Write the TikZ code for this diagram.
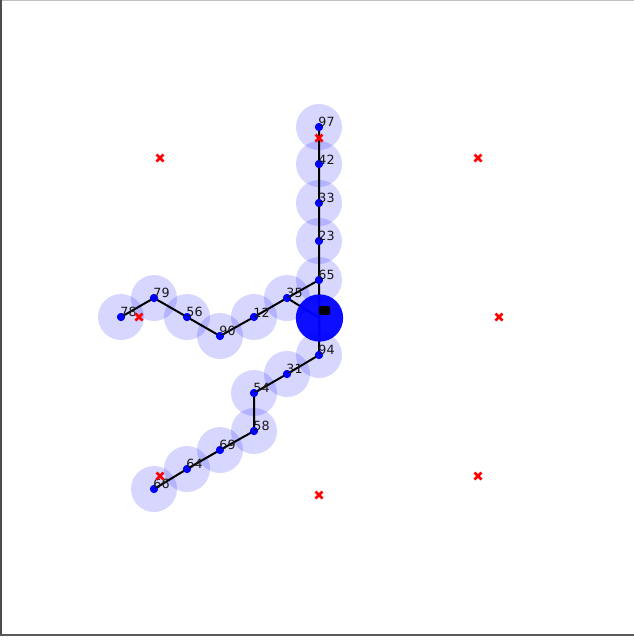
\documentclass[tikz,border=0pt]{standalone}
\usepackage{fontspec}
\setmainfont{DejaVu Sans}
\begin{document}
\begin{tikzpicture}[x=0.75pt,y=-0.75pt,
  halo/.style={circle,fill=blue,fill opacity=0.16,minimum size=34.5pt,inner sep=0pt},
  dot/.style={circle,fill=blue,minimum size=6pt,inner sep=0pt},
  lbl/.style={anchor=south west,inner sep=0pt,font=\fontsize{9.5}{9.5}\selectfont,text=black!90},
  edge/.style={draw=black,line width=1.5pt},
  xmark/.style={red,line width=2pt},
]
\useasboundingbox (0,0) rectangle (634,640);
\fill[white] (0,0) rectangle (634,640);
\draw[black!25,line width=0.8pt] (0,0.4) -- (634,0.4);
\draw[black!70,line width=1.5pt] (1,0) -- (1,635);
\draw[black!65,line width=1.5pt] (0,634.5) -- (634,634.5);

% nodes
\node[dot] (n97) at (319,127) {};
\node[dot] (n42) at (319,164) {};
\node[dot] (n33) at (319,203) {};
\node[dot] (n23) at (319,241) {};
\node[dot] (n65) at (319,280) {};
\node[dot] (n35) at (287,298) {};
\node[dot] (n12) at (254,317) {};
\node[dot] (n90) at (220,336) {};
\node[dot] (n56) at (187,317) {};
\node[dot] (n79) at (154,298) {};
\node[dot] (n78) at (121,317) {};
\node[dot] (n94) at (319,355) {};
\node[dot] (n31) at (287,374) {};
\node[dot] (n54) at (254,393) {};
\node[dot] (n58) at (254,431) {};
\node[dot] (n69) at (220,450) {};
\node[dot] (n64) at (187,469) {};
\node[dot] (n66) at (154,489) {};
\coordinate (c) at (319.5,318);

% halos
\foreach \n in {n97,n42,n33,n23,n65,n35,n12,n90,n56,n79,n78,n94,n31,n54,n58,n69,n64,n66}
  \node[halo] at (\n.center) {};

% edges
\draw[edge] (n97.center) -- (n42.center) -- (n33.center) -- (n23.center) -- (n65.center) -- (c);
\draw[edge] (n65.center) -- (n35.center);
\draw[edge] (c) -- (n35.center) -- (n12.center) -- (n90.center) -- (n56.center) -- (n79.center) -- (n78.center);
\draw[edge] (c) -- (n94.center) -- (n31.center) -- (n54.center) -- (n58.center) -- (n69.center) -- (n64.center) -- (n66.center);

% redraw dots over edges
\foreach \n in {n97,n42,n33,n23,n65,n35,n12,n90,n56,n79,n78,n94,n31,n54,n58,n69,n64,n66}
  \fill[blue] (\n.center) circle (3pt);

% central body
\node[circle,fill=blue,fill opacity=0.95,minimum size=35.5pt,inner sep=0pt] (hub) at (c) {};
\node[fill=black,rounded corners=1pt,minimum width=8.5pt,minimum height=6.5pt,inner sep=0pt] (box) at (324.5,310.5) {};

% labels
\foreach \n/\t in {n97/97,n42/42,n33/33,n23/23,n65/65,n35/35,n12/12,n90/90,n56/56,n79/79,n78/78,n94/94,n31/31,n54/54,n58/58,n69/69,n64/64,n66/66}
  \node[lbl] at ([xshift=-0.6pt,yshift=-0.3pt]\n.center) {\t};

% red x markers
\coordinate (r1) at (160,158);
\coordinate (r2) at (478,158);
\coordinate (r3) at (319,138);
\coordinate (r4) at (139,317);
\coordinate (r5) at (499,317);
\coordinate (r6) at (160,476);
\coordinate (r7) at (478,476);
\coordinate (r8) at (319,495);
\foreach \r in {r1,r2,r3,r4,r5,r6,r7,r8}
  \draw[xmark] (\r) ++(-3.5,-3.5) -- ++(7,7) (\r) ++(-3.5,3.5) -- ++(7,-7);
\end{tikzpicture}
\end{document}
